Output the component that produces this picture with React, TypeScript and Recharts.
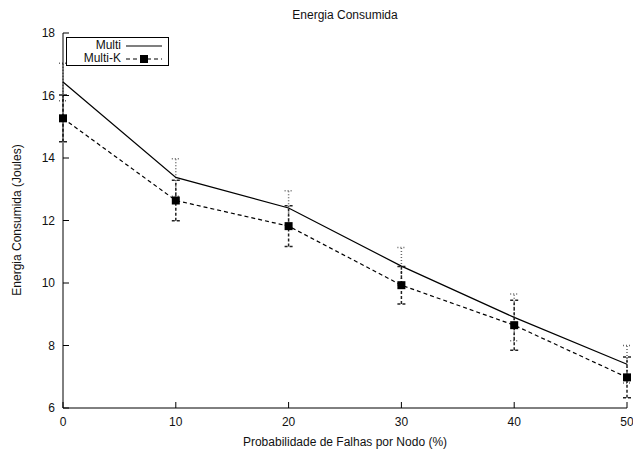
import { LineChart, Line, XAxis, YAxis, ErrorBar } from 'recharts';

const probabilities = [0, 10, 20, 30, 40, 50];
const multi = [16.43, 13.38, 12.4, 10.54, 8.9, 7.4];
const multiErr = [0.6, 0.6, 0.55, 0.6, 0.75, 0.6];
const multiK = [15.27, 12.64, 11.82, 9.93, 8.65, 6.98];
const multiKErr = [0.75, 0.65, 0.65, 0.6, 0.8, 0.65];
const xTicks = [0, 10, 20, 30, 40, 50];
const yTicks = [6, 8, 10, 12, 14, 16, 18];

const data = probabilities.map((p, i) => ({
  p,
  multi: multi[i],
  multiErr: multiErr[i],
  multiK: multiK[i],
  multiKErr: multiKErr[i],
}));

const font = '"Liberation Sans", Arial, sans-serif';
const blank = () => '';

const Square = (props: any) => {
  const { cx, cy } = props;
  if (cx == null || cy == null) return <g />;
  return <rect x={cx - 4} y={cy - 4} width={8} height={8} fill="#000" />;
};

export default function App() {
  return (
    <div style={{ position: 'fixed', left: 0, top: 0, width: 633, height: 450, background: '#fff', fontFamily: font }}>
      <div style={{ position: 'absolute', top: 8, left: 63, width: 564, textAlign: 'center', fontSize: 12, color: '#111' }}>
        Energia Consumida
      </div>
      <div
        style={{
          position: 'absolute', left: 17, top: 220, fontSize: 12, color: '#111', whiteSpace: 'nowrap',
          transform: 'translate(-50%, -50%) rotate(-90deg)',
        }}
      >
        Energia Consumida (Joules)
      </div>
      <LineChart width={633} height={450} data={data} margin={{ top: 33, right: 6, left: 0, bottom: 0 }}>
        <XAxis
          dataKey="p" type="number" domain={[0, 50]} ticks={xTicks} height={42}
          stroke="#000" tickSize={-6} tickMargin={15}
          tick={{ fill: '#111', fontSize: 12, fontFamily: font }}
          label={{ value: 'Probabilidade de Falhas por Nodo (%)', position: 'insideBottom', offset: 4, fill: '#111', fontSize: 12, fontFamily: font }}
        />
        <XAxis
          xAxisId="top" orientation="top" dataKey="p" type="number" domain={[0, 50]} ticks={xTicks}
          height={0} stroke="#000" tickSize={-6} tickFormatter={blank}
        />
        <YAxis
          type="number" domain={[6, 18]} ticks={yTicks} width={63}
          stroke="#000" tickSize={-6} tickMargin={14}
          tick={{ fill: '#111', fontSize: 12, fontFamily: font }}
        />
        <YAxis
          yAxisId="right" orientation="right" type="number" domain={[6, 18]} ticks={yTicks} width={0}
          stroke="#000" tickSize={-6} tickFormatter={blank}
        />
        <Line
          dataKey="multi" type="linear" stroke="#000" strokeWidth={1.2}
          dot={false} activeDot={false} isAnimationActive={false}
        >
          <ErrorBar dataKey="multiErr" width={4} stroke="#666" strokeDasharray="1 2" isAnimationActive={false} />
        </Line>
        <Line
          dataKey="multiK" type="linear" stroke="#000" strokeWidth={1.2} strokeDasharray="4 3"
          dot={<Square />} activeDot={false} isAnimationActive={false}
        >
          <ErrorBar dataKey="multiKErr" width={4} stroke="#222" strokeDasharray="3 2" isAnimationActive={false} />
        </Line>
      </LineChart>
      <div
        style={{
          position: 'absolute', left: 66, top: 37, width: 103, height: 29, border: '1px solid #000',
          boxSizing: 'border-box', fontSize: 12, color: '#111', lineHeight: '13px',
        }}
      >
        <div style={{ display: 'flex', alignItems: 'center', justifyContent: 'flex-end', paddingRight: 6, marginTop: 1 }}>
          <span>Multi</span>
          <svg width={36} height={10} style={{ marginLeft: 5 }}>
            <line x1={0} y1={5} x2={36} y2={5} stroke="#000" strokeWidth={1.2} />
          </svg>
        </div>
        <div style={{ display: 'flex', alignItems: 'center', justifyContent: 'flex-end', paddingRight: 6 }}>
          <span>Multi-K</span>
          <svg width={36} height={10} style={{ marginLeft: 5 }}>
            <line x1={0} y1={5} x2={36} y2={5} stroke="#000" strokeWidth={1.2} strokeDasharray="4 3" />
            <rect x={14} y={1} width={8} height={8} fill="#000" />
          </svg>
        </div>
      </div>
    </div>
  );
}
